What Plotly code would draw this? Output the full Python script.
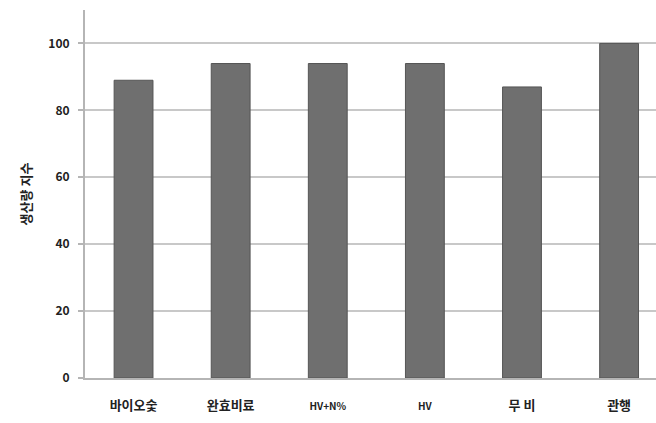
import plotly.graph_objects as go

categories = ["바이오숯", "완효비료", "HV+N%", "HV", "무 비", "관행"]
values = [89, 94, 94, 94, 87, 100]
tick_text = ["바이오숯", "완효비료", "<span style='font-size:10px'>HV+N%</span>",
             "<span style='font-size:10px'>HV</span>", "무 비", "관행"]
y_ticks = [0, 20, 40, 60, 80, 100]

font_fam = "Noto Sans CJK KR, Noto Sans, sans-serif"

fig = go.Figure()
fig.add_trace(go.Bar(
    x=list(range(len(categories))),
    y=values,
    width=0.4,
    marker=dict(color="#6f6f6f", line=dict(color="#555555", width=1)),
    hoverinfo="y",
))

fig.update_layout(
    width=656, height=423,
    margin=dict(l=85, r=0, t=10, b=45),
    paper_bgcolor="white", plot_bgcolor="white",
    showlegend=False,
    font=dict(family=font_fam, color="#222222"),
    xaxis=dict(
        range=[-0.5, 5.38],
        tickmode="array", tickvals=list(range(len(categories))), ticktext=tick_text,
        tickfont=dict(size=13, family=font_fam, color="#222222", weight="bold"),
        showgrid=False, showline=True, linecolor="#b5b5b5", linewidth=2,
        ticks="", ticklabelstandoff=14,
    ),
    yaxis=dict(
        range=[0, 110],
        tickmode="array", tickvals=y_ticks,
        tickfont=dict(size=12, family=font_fam, color="#222222", weight="bold"),
        showgrid=True, gridcolor="#c8c8c8", gridwidth=2,
        showline=True, linecolor="#b5b5b5", linewidth=2,
        ticks="outside", ticklen=5, tickcolor="#b5b5b5", tickwidth=2,
        ticklabelstandoff=6,
        zeroline=False,
        title=dict(text="생산량 지수", font=dict(size=13, family=font_fam, color="#222222", weight="bold"), standoff=14),
    ),
)

fig.write_html("out.html")
